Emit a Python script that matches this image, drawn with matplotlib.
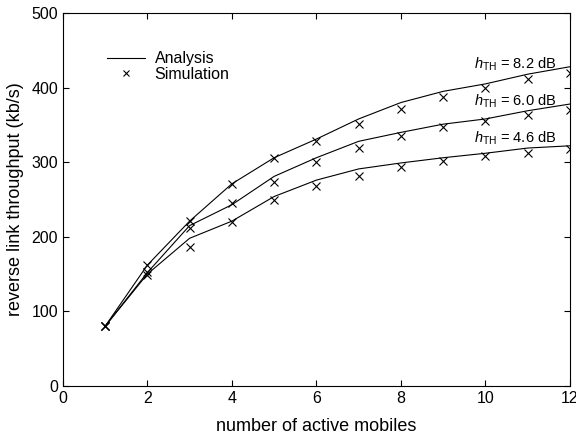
import matplotlib
matplotlib.use("Agg")
import matplotlib.pyplot as plt

plt.rcParams['font.family'] = ['Liberation Sans', 'DejaVu Sans']
plt.rcParams['mathtext.fontset'] = 'custom'
plt.rcParams['mathtext.rm'] = 'Liberation Sans'
plt.rcParams['mathtext.it'] = 'Liberation Sans:italic'

# number of active mobiles
mobiles = [1, 2, 3, 4, 5, 6, 7, 8, 9, 10, 11, 12]

# analysis curves (kb/s)
ana_82 = [80, 162, 221, 271, 306, 331, 358, 380, 395, 405, 418, 428]
ana_60 = [80, 152, 215, 243, 281, 306, 328, 340, 351, 358, 369, 378]
ana_46 = [80, 150, 198, 221, 254, 276, 291, 299, 306, 312, 319, 322]

# simulation points (kb/s)
sim_82 = [80, 162, 221, 271, 305, 329, 351, 371, 387, 400, 411, 420]
sim_60 = [80, 153, 212, 245, 273, 300, 319, 335, 347, 355, 363, 370]
sim_46 = [80, 149, 186, 220, 249, 268, 282, 293, 301, 308, 313, 318]

labels = ['8.2', '6.0', '4.6']
label_y = [426, 376, 326]

fig = plt.figure(figsize=(5.76, 4.41), dpi=100)
ax = fig.add_axes([0.109, 0.1247, 0.8806, 0.8458])

for i, (a, s) in enumerate([(ana_82, sim_82), (ana_60, sim_60), (ana_46, sim_46)]):
    ax.plot(mobiles, a, color='black', linewidth=0.8,
            label='Analysis' if i == 0 else None)
    ax.plot(mobiles, s, linestyle='none', marker='x', color='black',
            markersize=5.5, markeredgewidth=0.8,
            label='Simulation' if i == 0 else None)

for lab, y in zip(labels, label_y):
    ax.text(11.68, y, r'$h_{\mathrm{TH}}$' + ' = ' + lab + ' dB', ha='right',
            va='baseline', fontsize=10.5)

ax.set_xlim(0, 12)
ax.set_ylim(0, 500)
ax.set_xticks(range(0, 13, 2))
ax.set_yticks(range(0, 501, 100))
ax.tick_params(direction='in', top=True, right=True, length=4, width=0.8,
               labelsize=11.5)
for sp in ax.spines.values():
    sp.set_linewidth(0.8)

ax.set_xlabel('number of active mobiles', fontsize=13, labelpad=9)
ax.set_ylabel('reverse link throughput (kb/s)', fontsize=13, labelpad=5)

ax.legend(loc='upper left', bbox_to_anchor=(0.071, 0.919), frameon=False,
          fontsize=11.5, handlelength=2.4, handletextpad=0.6,
          labelspacing=0.02, borderpad=0, markerscale=0.75)

fig.savefig('out.png', dpi=100)
